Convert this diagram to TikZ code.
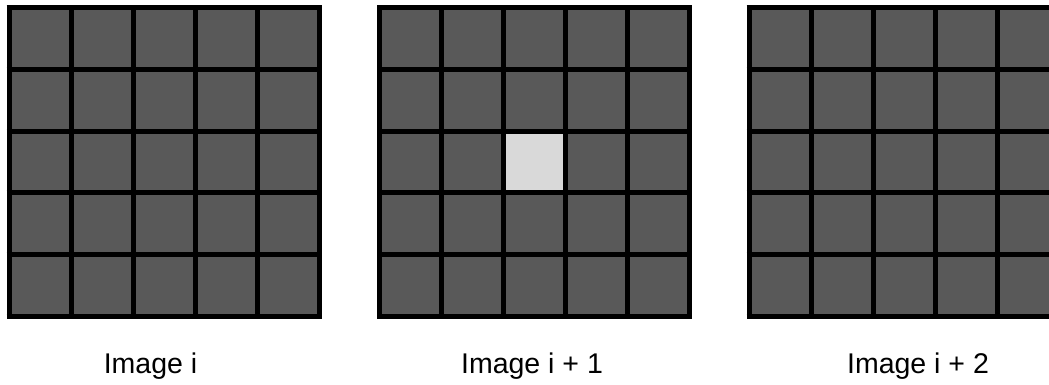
\documentclass[tikz,border=0pt]{standalone}
\usepackage{fontspec}
\setmainfont{Liberation Sans}
\definecolor{cellgray}{HTML}{595959}
\definecolor{lightcell}{HTML}{D9D9D9}
\begin{document}
\begin{tikzpicture}[x=1pt,y=-1pt,
  gridline/.style={line width=5pt,black},
  cellfill/.style={fill=cellgray},
  hicell/.style={fill=lightcell},
  caption/.style={font=\fontsize{28.5}{34}\selectfont,inner sep=0pt,anchor=base}]
\clip (0,0) rectangle (1049,384);
\fill[white] (0,0) rectangle (1049,384);
\foreach \gx in {9,379.5,749}{
  \fill[cellfill] (\gx,7.5) rectangle ++(310,309);
}
\fill[hicell] (379.5+124,7.5+123.6) rectangle ++(62,61.8);
\foreach \gx in {9,379.5,749}{
  \foreach \k in {0,...,5}{
    \draw[gridline] (\gx+62*\k,5) -- (\gx+62*\k,319);
    \draw[gridline] (\gx-2.5,7.5+61.8*\k) -- (\gx+312.5,7.5+61.8*\k);
  }
}
\node[caption] (l1) at (150.5,373) {Image i};
\node[caption] (l2) at (532,373) {Image i + 1};
\node[caption] (l3) at (918,373) {Image i + 2};
\end{tikzpicture}
\end{document}
